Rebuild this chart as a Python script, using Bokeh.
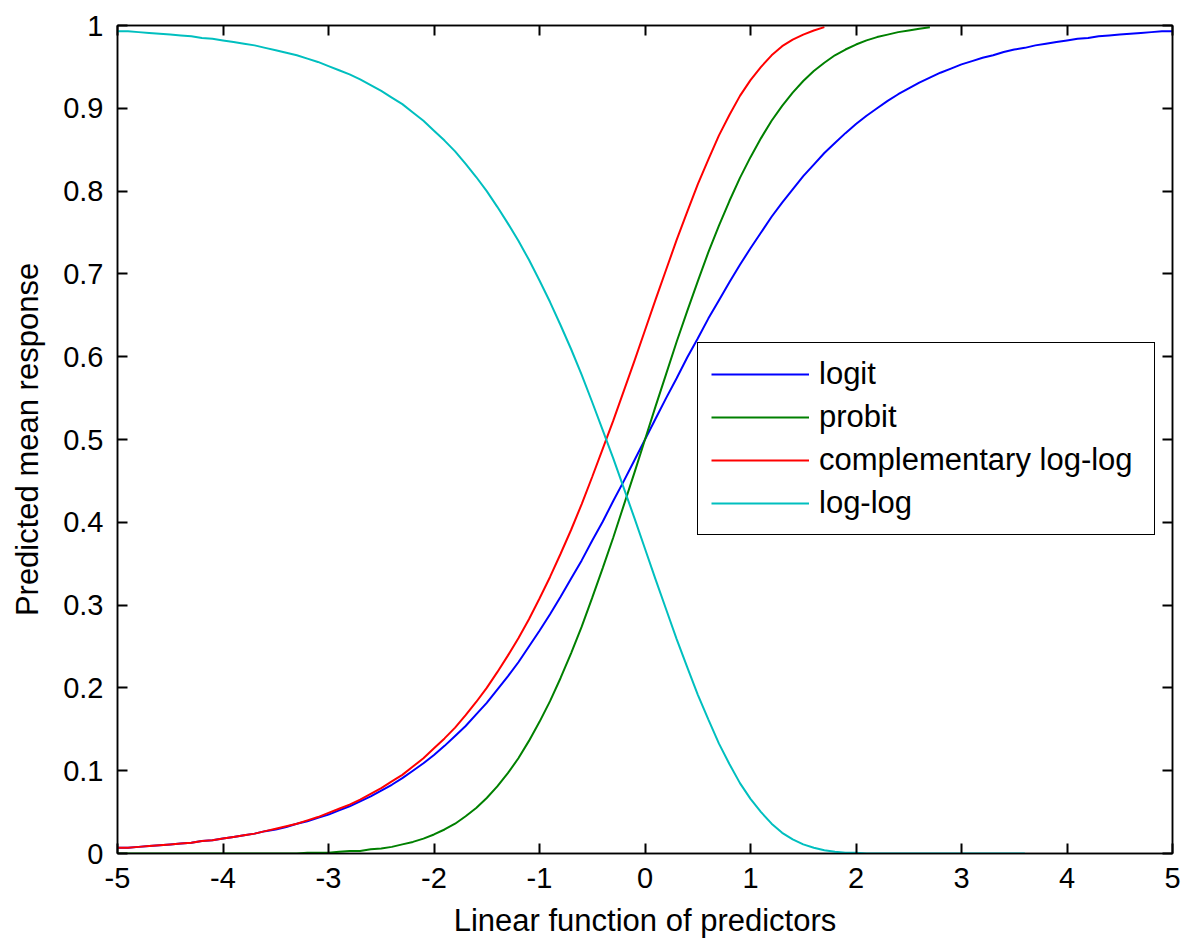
from bokeh.plotting import figure
from bokeh.models import (Range1d, LinearAxis, FixedTicker, CustomJSTickFormatter,
                          Legend, LegendItem)
from bokeh.embed import file_html
from bokeh.resources import INLINE

# Predicted mean response for each link, sampled every 0.1 of the linear predictor
# starting at -5.
mu_logit = [0.007, 0.007, 0.008, 0.009, 0.010, 0.011, 0.012, 0.013, 0.015, 0.016,
            0.018, 0.020, 0.022, 0.024, 0.027, 0.029, 0.032, 0.036, 0.039, 0.043,
            0.047, 0.052, 0.057, 0.063, 0.069, 0.076, 0.083, 0.091, 0.100, 0.109,
            0.119, 0.130, 0.142, 0.154, 0.168, 0.182, 0.198, 0.214, 0.231, 0.250,
            0.269, 0.289, 0.310, 0.332, 0.354, 0.378, 0.401, 0.426, 0.450, 0.475,
            0.500, 0.525, 0.550, 0.574, 0.599, 0.622, 0.646, 0.668, 0.690, 0.711,
            0.731, 0.750, 0.769, 0.786, 0.802, 0.818, 0.832, 0.846, 0.858, 0.870,
            0.881, 0.891, 0.900, 0.909, 0.917, 0.924, 0.931, 0.937, 0.943, 0.948,
            0.953, 0.957, 0.961, 0.964, 0.968, 0.971, 0.973, 0.976, 0.978, 0.980,
            0.982, 0.984, 0.985, 0.987, 0.988, 0.989, 0.990, 0.991, 0.992, 0.993,
            0.993]

mu_probit = [0.000, 0.000, 0.000, 0.000, 0.000, 0.000, 0.000, 0.000, 0.000, 0.000,
             0.000, 0.000, 0.000, 0.000, 0.000, 0.000, 0.000, 0.000, 0.001, 0.001,
             0.001, 0.002, 0.003, 0.003, 0.005, 0.006, 0.008, 0.011, 0.014, 0.018,
             0.023, 0.029, 0.036, 0.045, 0.055, 0.067, 0.081, 0.097, 0.115, 0.136,
             0.159, 0.184, 0.212, 0.242, 0.274, 0.309, 0.345, 0.382, 0.421, 0.460,
             0.500, 0.540, 0.579, 0.618, 0.655, 0.691, 0.726, 0.758, 0.788, 0.816,
             0.841, 0.864, 0.885, 0.903, 0.919, 0.933, 0.945, 0.955, 0.964, 0.971,
             0.977, 0.982, 0.986, 0.989, 0.992, 0.994, 0.996, 0.998]

mu_cloglog = [0.007, 0.007, 0.008, 0.009, 0.010, 0.011, 0.012, 0.013, 0.015, 0.016,
              0.018, 0.020, 0.022, 0.024, 0.027, 0.030, 0.033, 0.036, 0.040, 0.044,
              0.049, 0.054, 0.059, 0.065, 0.072, 0.079, 0.087, 0.095, 0.105, 0.115,
              0.127, 0.139, 0.152, 0.167, 0.183, 0.200, 0.219, 0.239, 0.260, 0.283,
              0.308, 0.334, 0.362, 0.391, 0.422, 0.455, 0.489, 0.523, 0.559, 0.595,
              0.632, 0.669, 0.705, 0.741, 0.775, 0.808, 0.838, 0.867, 0.892, 0.915,
              0.934, 0.950, 0.964, 0.975, 0.983, 0.989, 0.994, 0.998]

mu_loglog = [0.993, 0.993, 0.992, 0.991, 0.990, 0.989, 0.988, 0.987, 0.985, 0.984,
             0.982, 0.980, 0.978, 0.976, 0.973, 0.970, 0.967, 0.964, 0.960, 0.956,
             0.951, 0.946, 0.941, 0.935, 0.928, 0.921, 0.913, 0.905, 0.895, 0.885,
             0.873, 0.861, 0.848, 0.833, 0.817, 0.800, 0.781, 0.761, 0.740, 0.717,
             0.692, 0.666, 0.638, 0.609, 0.578, 0.545, 0.511, 0.477, 0.441, 0.405,
             0.368, 0.331, 0.295, 0.259, 0.225, 0.192, 0.162, 0.133, 0.108, 0.085,
             0.066, 0.050, 0.036, 0.025, 0.017, 0.011, 0.007, 0.004, 0.002, 0.001,
             0.001, 0.000, 0.000, 0.000, 0.000, 0.000, 0.000, 0.000, 0.000, 0.000,
             0.000, 0.000, 0.000, 0.000, 0.000, 0.000, 0.000]

ETA_START = -5.0
ETA_STEP = 0.1

series_names = ["logit", "probit", "complementary log-log", "log-log"]
series_values = [mu_logit, mu_probit, mu_cloglog, mu_loglog]
series_colors = ["#0000FF", "#008000", "#FF0000", "#00BFBF"]

x_ticks = [-5, -4, -3, -2, -1, 0, 1, 2, 3, 4, 5]
y_ticks = [0.0, 0.1, 0.2, 0.3, 0.4, 0.5, 0.6, 0.7, 0.8, 0.9, 1.0]

FONT = "Liberation Sans"
TICK_FS = "29px"
LABEL_FS = "31px"

p = figure(width=1190, height=947, output_backend="svg", toolbar_location=None,
           x_range=Range1d(-5, 5), y_range=Range1d(0, 1),
           min_border_left=117, min_border_right=18,
           min_border_top=25, min_border_bottom=94,
           x_axis_label="Linear function of predictors",
           y_axis_label="Predicted mean response")
p.background_fill_color = "white"
p.border_fill_color = "white"
p.outline_line_color = "black"
p.outline_line_width = 1.5
p.xgrid.visible = False
p.ygrid.visible = False

x_fmt = CustomJSTickFormatter(code="return Math.round(tick).toString();")
y_fmt = CustomJSTickFormatter(code="return (Math.round(tick * 10) / 10).toString();")
blank_fmt = CustomJSTickFormatter(code="return '';")


def style_axis(ax, ticks, fmt, standoff):
    ax.ticker = FixedTicker(ticks=ticks)
    ax.formatter = fmt
    ax.minor_tick_line_color = None
    ax.major_tick_in = 10
    ax.major_tick_out = 0
    ax.major_tick_line_width = 2
    ax.major_tick_line_color = "black"
    ax.axis_line_color = "black"
    ax.axis_line_width = 1.5
    ax.major_label_text_font = FONT
    ax.major_label_text_font_size = TICK_FS
    ax.major_label_text_color = "black"
    ax.major_label_standoff = standoff
    ax.axis_label_text_font = FONT
    ax.axis_label_text_font_size = LABEL_FS
    ax.axis_label_text_font_style = "normal"
    ax.axis_label_text_color = "black"


style_axis(p.xaxis[0], x_ticks, x_fmt, 14)
p.xaxis[0].axis_label_standoff = 12
style_axis(p.yaxis[0], y_ticks, y_fmt, 14)
p.yaxis[0].axis_label_standoff = 15

# Box-style frame: ticks also on the top and right edges, without labels
top_axis = LinearAxis()
style_axis(top_axis, x_ticks, blank_fmt, 0)
right_axis = LinearAxis()
style_axis(right_axis, y_ticks, blank_fmt, 0)
p.add_layout(top_axis, "above")
p.add_layout(right_axis, "right")

renderers = []
for ys, color in zip(series_values, series_colors):
    xs = [round(ETA_START + ETA_STEP * i, 1) for i in range(len(ys))]
    renderers.append(p.line(xs, ys, line_color=color, line_width=2))

legend = Legend(items=[LegendItem(label=n, renderers=[r])
                       for n, r in zip(series_names, renderers)],
                location=(580, 318))
legend.border_line_color = "black"
legend.border_line_alpha = 1.0
legend.border_line_width = 1.5
legend.background_fill_color = "white"
legend.background_fill_alpha = 1.0
legend.label_text_font = FONT
legend.label_text_font_size = LABEL_FS
legend.label_text_color = "black"
legend.glyph_width = 98
legend.glyph_height = 20
legend.label_standoff = 10
legend.label_width = 322
legend.padding = 13
legend.spacing = 7
legend.margin = 0
p.add_layout(legend, "center")

open("out.html", "w").write(file_html(p, INLINE))
